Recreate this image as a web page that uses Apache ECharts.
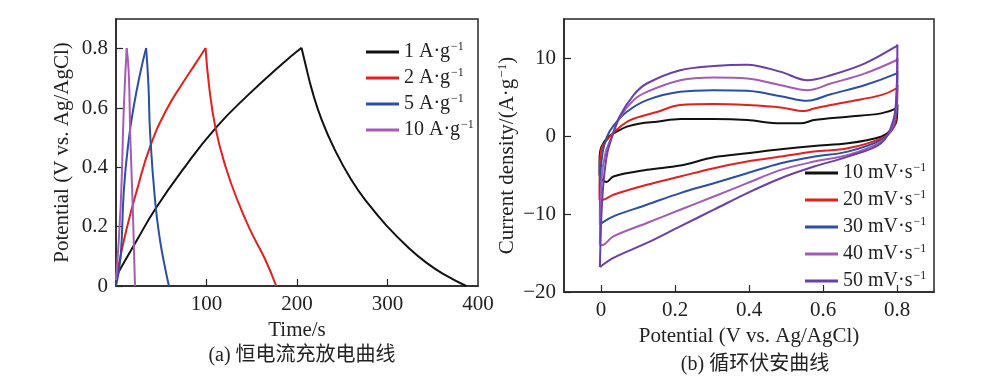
<!DOCTYPE html>
<html>
<head>
<meta charset="utf-8">
<script src="https://cdn.jsdelivr.net/npm/echarts@6/dist/echarts.min.js"></script>
<style>
  html, body { margin: 0; padding: 0; background: #fff; }
  #chart { width: 986px; height: 376px; }
</style>
</head>
<body>
<div id="chart"></div>
<script>
// (a) galvanostatic charge/discharge: [time s, potential V], charge and discharge parts
const gcd1Charge = [[0,0.03],[3.3,0.05],[23.2,0.155],[43.1,0.258],[73.9,0.392],[110,0.532],[146.4,0.645],[182.6,0.746],[205,0.803]];
const gcd1Discharge = [[205,0.803],[209,0.752],[216.4,0.662],[227.3,0.56],[241.8,0.459],[260,0.358],[278.2,0.279],[300,0.2],[321.8,0.133],[343.6,0.077],[365.5,0.034],[387,0]];
const gcd2Charge = [[0,0.03],[3.3,0.077],[12.3,0.2],[23.2,0.324],[37.7,0.47],[55.8,0.594],[73.9,0.685],[88.4,0.752],[99,0.802]];
const gcd2Discharge = [[99,0.802],[102.9,0.673],[110,0.532],[121,0.403],[135.5,0.279],[150,0.178],[164.5,0.092],[177,0]];
const gcd5Charge = [[0,0],[5.1,0.099],[8.7,0.324],[14.1,0.493],[19.6,0.605],[26.8,0.718],[33.3,0.802]];
const gcd5Discharge = [[33.3,0.802],[35.9,0.673],[37.7,0.515],[43.1,0.29],[48.6,0.155],[54,0.065],[58.5,0]];
const gcd10Charge = [[0,0.02],[5.1,0.268],[8.7,0.605],[11.8,0.802]];
const gcd10Discharge = [[11.8,0.802],[14.1,0.718],[15.9,0.493],[18.5,0.268],[21,0]];
const gcdNames = ['1 A·g', '2 A·g', '5 A·g', '10 A·g'];
const gcdColors = ['#111111', '#e3201b', '#2c4ea3', '#a65bb8'];
const timeTicks = [100, 200, 300];
const timeLabels = [100, 200, 300, 400];
const potTicks = [0, 0.2, 0.4, 0.6, 0.8];

// (b) cyclic voltammetry: [potential V, current density A/g], anodic and cathodic sweeps
const cv10Up = [[-0.004,-5.0],[-0.004,-3.1],[0.001,-1.4],[0.02,-0.1],[0.042,0.55],[0.07,1.2],[0.106,1.6],[0.151,1.83],[0.214,2.17],[0.305,2.17],[0.395,2.04],[0.486,1.62],[0.54,1.62],[0.576,2.04],[0.667,2.47],[0.757,2.9],[0.798,3.53],[0.801,4.0]];
const cv10Down = [[0.801,4.0],[0.799,2.0],[0.784,0.77],[0.757,-0.09],[0.667,-0.94],[0.576,-1.28],[0.486,-1.7],[0.395,-2.21],[0.305,-2.72],[0.214,-3.79],[0.124,-4.34],[0.0335,-5.19],[0.015,-5.9],[0.003,-5.6],[-0.004,-5.0]];
const cv20Up = [[-0.004,-8.2],[-0.003,-3.5],[0.003,-1.4],[0.02,-0.3],[0.042,0.8],[0.079,2.04],[0.151,3.07],[0.214,3.96],[0.305,4.09],[0.395,3.96],[0.486,3.66],[0.549,3.19],[0.576,3.53],[0.667,4.39],[0.757,5.24],[0.798,6.09],[0.801,6.5]];
const cv20Down = [[0.801,6.5],[0.799,3.0],[0.79,1.0],[0.757,-0.3],[0.667,-1.58],[0.576,-2.0],[0.486,-2.64],[0.395,-3.28],[0.305,-4.13],[0.214,-5.19],[0.124,-6.26],[0.0335,-7.54],[0.006,-8.17],[-0.004,-8.2]];
const cv30Up = [[-0.003,-11.4],[-0.002,-5.6],[0.004,-2.2],[0.016,-0.1],[0.0335,1.3],[0.069,3.07],[0.124,4.6],[0.214,5.66],[0.305,5.87],[0.395,5.79],[0.486,5.11],[0.558,4.51],[0.621,5.36],[0.712,6.51],[0.798,8.0],[0.801,8.3]];
const cv30Down = [[0.801,8.3],[0.799,4.0],[0.79,1.2],[0.757,-0.51],[0.667,-2.0],[0.576,-2.64],[0.486,-3.49],[0.395,-4.77],[0.305,-6.05],[0.214,-7.32],[0.124,-8.81],[0.0335,-10.3],[0.002,-11.16],[-0.003,-11.4]];
const cv40Up = [[-0.003,-13.9],[0.0014,-5.6],[0.012,-2.2],[0.029,-0.1],[0.05,2.3],[0.088,4.6],[0.124,5.66],[0.214,7.15],[0.305,7.49],[0.395,7.37],[0.486,6.51],[0.558,5.87],[0.621,6.73],[0.712,8.0],[0.798,9.71],[0.801,10.0]];
const cv40Down = [[0.801,10.0],[0.799,5.0],[0.79,1.5],[0.757,-0.72],[0.667,-2.43],[0.576,-3.28],[0.486,-4.34],[0.395,-6.05],[0.305,-7.75],[0.214,-9.45],[0.124,-11.16],[0.0335,-12.86],[0.002,-14.0],[-0.003,-13.9]];
const cv50Up = [[-0.003,-16.8],[0.0014,-9.9],[0.0075,-5.6],[0.017,-2.2],[0.03,-0.1],[0.05,2.47],[0.088,5.24],[0.124,6.73],[0.214,8.43],[0.305,8.98],[0.395,9.15],[0.486,8.22],[0.558,7.15],[0.621,7.79],[0.712,9.28],[0.798,11.49],[0.801,11.7]];
const cv50Down = [[0.801,11.7],[0.799,6.0],[0.79,2.0],[0.757,-0.94],[0.667,-2.64],[0.576,-3.92],[0.486,-5.41],[0.395,-7.32],[0.305,-9.45],[0.214,-11.58],[0.124,-13.71],[0.0335,-15.62],[-0.003,-16.8]];
const cvNames = ['10 mV·s', '20 mV·s', '30 mV·s', '40 mV·s', '50 mV·s'];
const cvColors = ['#111111', '#e3201b', '#2c4ea3', '#a35bb5', '#6a3fa6'];
const cvPotTicks = [0, 0.2, 0.4, 0.6, 0.8];
const currentTicks = [-20, -10, 0, 10];

const FONT = "'Liberation Serif', 'Times New Roman', 'Noto Sans CJK SC', serif";
const ink = '#262626';
const minus = v => String(v).replace('-', '\u2212');
const richText = {
  t: { fontSize: 20, fontFamily: FONT, color: '#222' },
  s: { fontSize: 12, fontFamily: FONT, color: '#222', padding: [0, 0, 10, 1] }
};
const richName = {
  t: { fontSize: 21, fontFamily: FONT, color: '#222' },
  s: { fontSize: 13, fontFamily: FONT, color: '#222', padding: [0, 0, 10, 1] }
};

function axisCommon(extra, ticks, labels, fmt) {
  const label = { fontSize: 21, fontFamily: FONT, color: '#222', margin: 8, customValues: labels };
  if (fmt) label.formatter = fmt;
  return Object.assign({
    type: 'value',
    axisLine: { show: true, onZero: false, lineStyle: { color: ink, width: 1.5 } },
    axisTick: { show: true, inside: true, length: 7, customValues: ticks, lineStyle: { color: ink, width: 1.2 } },
    axisLabel: label,
    splitLine: { show: false },
    nameLocation: 'middle',
    nameTextStyle: { fontSize: 21, fontFamily: FONT, color: '#222', rich: richName }
  }, extra);
}

const myChart = echarts.init(document.getElementById('chart'));

function lineOf(name, color, data, axis, smooth) {
  return {
    name: name, type: 'line', xAxisIndex: axis, yAxisIndex: axis,
    data: data, showSymbol: false, symbol: 'none', smooth: smooth,
    lineStyle: { color: color, width: 2 }, itemStyle: { color: color }
  };
}

const gcdParts = [[gcd1Charge, gcd1Discharge], [gcd2Charge, gcd2Discharge], [gcd5Charge, gcd5Discharge], [gcd10Charge, gcd10Discharge]];
const cvParts = [[cv10Up, cv10Down], [cv20Up, cv20Down], [cv30Up, cv30Down], [cv40Up, cv40Down], [cv50Up, cv50Down]];
const series = [];
gcdParts.forEach((p, i) => {
  series.push(lineOf(gcdNames[i], gcdColors[i], p[0], 0, 0.5));
  series.push(lineOf(gcdNames[i], gcdColors[i], p[1], 0, 0.5));
});
cvParts.forEach((p, i) => {
  series.push(lineOf(cvNames[i], cvColors[i], p[0], 1, 0.35));
  series.push(lineOf(cvNames[i], cvColors[i], p[1], 1, 0.35));
});

const option = {
  backgroundColor: '#fff',
  animation: false,
  title: [
    { text: '(a) 恒电流充放电曲线', left: 297, top: 341, textAlign: 'center',
      textStyle: { fontSize: 20, fontWeight: 'normal', fontFamily: FONT, color: '#222' } },
    { text: '(b) 循环伏安曲线', left: 750, top: 350, textAlign: 'center',
      textStyle: { fontSize: 20, fontWeight: 'normal', fontFamily: FONT, color: '#222' } }
  ],
  grid: [
    { left: 116, top: 19, width: 362, height: 267, show: true, borderColor: ink, borderWidth: 1.5 },
    { left: 564, top: 19, width: 370, height: 273, show: true, borderColor: ink, borderWidth: 1.5 }
  ],
  legend: [
    { data: gcdNames, orient: 'vertical', left: 361, top: 36, itemWidth: 33, itemHeight: 3, itemGap: 5,
      icon: 'rect', formatter: n => '{t|' + n + '}{s|\u22121}', textStyle: { rich: richText } },
    { data: cvNames, orient: 'vertical', left: 800, top: 157, itemWidth: 33, itemHeight: 3, itemGap: 6,
      icon: 'rect', formatter: n => '{t|' + n + '}{s|\u22121}', textStyle: { rich: richText } }
  ],
  xAxis: [
    axisCommon({ gridIndex: 0, min: 0, max: 400, name: 'Time/s', nameGap: 27 }, timeTicks, timeLabels),
    axisCommon({ gridIndex: 1, min: -0.1, max: 0.9, name: 'Potential (V vs. Ag/AgCl)', nameGap: 29 }, cvPotTicks, cvPotTicks)
  ],
  yAxis: [
    axisCommon({ gridIndex: 0, min: 0, max: 0.9, name: 'Potential (V vs. Ag/AgCl)', nameGap: 43 }, potTicks, potTicks),
    axisCommon({ gridIndex: 1, min: -20, max: 15, name: '{t|Current density/(A·g}{s|\u22121}{t|)}', nameGap: 45 }, currentTicks, currentTicks, minus)
  ],
  series: series
};

option && myChart.setOption(option);
</script>
</body>
</html>
